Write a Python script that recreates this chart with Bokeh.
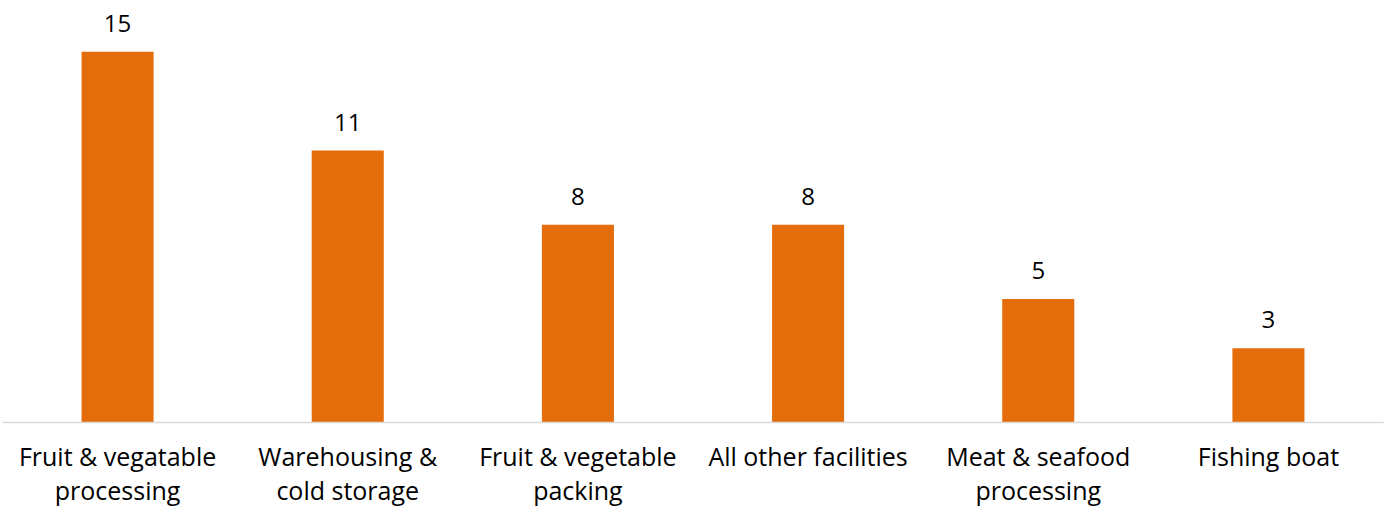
from bokeh.plotting import figure
from bokeh.models import ColumnDataSource, FactorRange, Range1d, LabelSet
from bokeh.core.properties import value
from bokeh.embed import file_html
from bokeh.resources import INLINE

categories = ["Fruit & vegatable\nprocessing", "Warehousing &\ncold storage",
              "Fruit & vegetable\npacking", "All other facilities",
              "Meat & seafood\nprocessing", "Fishing boat"]
values = [15, 11, 8, 8, 5, 3]
value_labels = [str(v) for v in values]

FONT = "Open Sans"

src = ColumnDataSource(dict(cat=categories, val=values, lab=value_labels))

p = figure(width=1385, height=509, x_range=FactorRange(*categories, range_padding=0),
           y_range=Range1d(0, 17.07), output_backend="svg", toolbar_location=None,
           min_border_left=2, min_border_right=2, min_border_top=0, min_border_bottom=80)

p.vbar(x="cat", top="val", width=0.313, source=src, fill_color="#E46C0A", line_color=None)

labels = LabelSet(x="cat", y="val", text="lab", source=src, text_align="center",
                  text_baseline="alphabetic", y_offset=20, text_font=value(FONT),
                  text_font_size="24px", text_color="#000000")
p.add_layout(labels)

p.yaxis.visible = False
p.xgrid.visible = False
p.ygrid.visible = False
p.outline_line_color = None
p.xaxis.axis_line_color = "#D9D9D9"
p.xaxis.axis_line_width = 1.5
p.xaxis.major_tick_line_color = None
p.xaxis.minor_tick_line_color = None
p.xaxis.major_label_text_font = FONT
p.xaxis.major_label_text_font_size = "25px"
p.xaxis.major_label_text_line_height = 1.0
p.xaxis.major_label_text_color = "#000000"
p.xaxis.major_label_standoff = 10

open("out.html", "w").write(file_html(p, INLINE))
